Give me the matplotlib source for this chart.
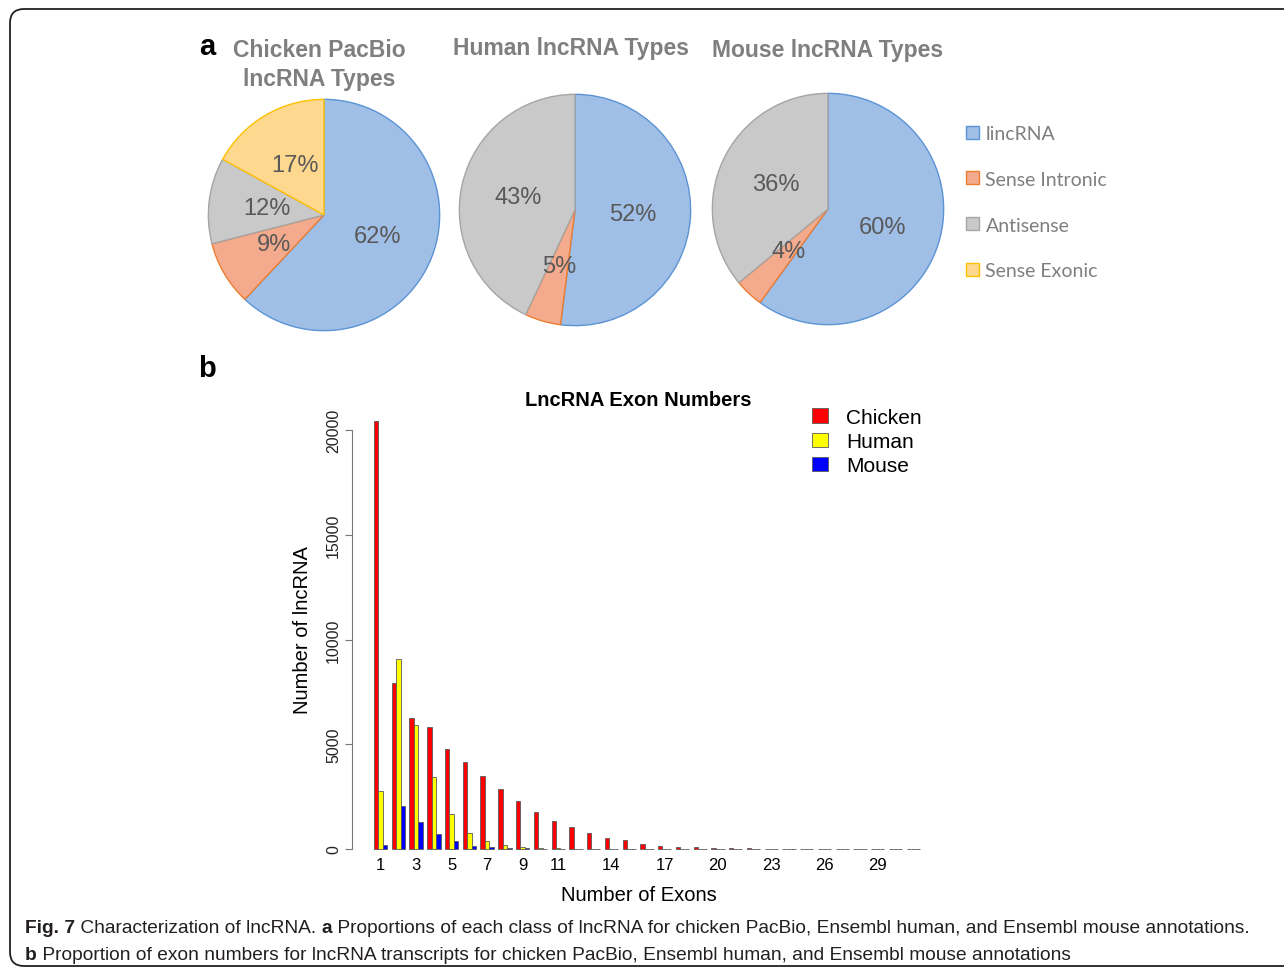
import numpy as np
import matplotlib.pyplot as plt
from matplotlib.patches import Patch, FancyBboxPatch
from matplotlib.transforms import IdentityTransform

W, H = 1284, 970

# ---- data: panel a (pie charts) ----
pie_types = ['lincRNA', 'Sense Intronic', 'Antisense', 'Sense Exonic']
chicken_pct = [62, 9, 12, 17]
human_pct = [52, 5, 43, 0]
mouse_pct = [60, 4, 36, 0]
pie_titles = ['Chicken PacBio\nlncRNA Types', 'Human lncRNA Types', 'Mouse lncRNA Types']

# ---- data: panel b (exon numbers, groups 1..31) ----
exon_numbers = list(range(1, 32))
chicken_exons = [20430, 7900, 6270, 5840, 4790, 4170, 3480, 2860, 2270, 1780,
                 1340, 1050, 750, 540, 430, 250, 160, 110, 80, 60,
                 40, 30, 20, 15, 10, 8, 6, 5, 4, 3, 3]
human_exons = [2770, 9050, 5920, 3440, 1650, 760, 370, 190, 100, 50,
               30, 20, 10, 8, 5, 4, 3, 2, 2, 1,
               1, 1, 1, 1, 1, 1, 1, 1, 1, 1, 1]
mouse_exons = [190, 2040, 1270, 730, 370, 140, 100, 60, 30, 20,
               10, 8, 5, 4, 3, 2, 2, 1, 1, 1,
               1, 1, 1, 1, 1, 1, 1, 1, 1, 1, 1]
species = ['Chicken', 'Human', 'Mouse']
shown_ticks = [1, 3, 5, 7, 9, 11, 14, 17, 20, 23, 26, 29]

pie_fill = ['#a0bfe7', '#f4aa8c', '#c9c9c9', '#fed88e']
pie_edge = ['#5b93d3', '#ed7d31', '#a5a5a5', '#ffc000']
bar_colors = ['#ff0000', '#ffff00', '#0000ff']

fig = plt.figure(figsize=(W / 100, H / 100), dpi=100)


def px_axes(left, top, width, height):
    return fig.add_axes([left / W, 1 - (top + height) / H, width / W, height / H])


def fx(x):
    return x / W


def fy(y):
    return 1 - y / H


# outer rounded frame
frame = FancyBboxPatch((10, 3), 1300, 957, boxstyle='round,pad=0,rounding_size=14',
                       transform=IdentityTransform(), fill=False,
                       edgecolor='#222222', linewidth=1.3)
fig.patches.append(frame)

# ---- CHART a: pies ----
title_font = ['Liberation Sans', 'DejaVu Sans']
centers = [(324, 216), (575, 211), (828, 210)]
radius = 116
for (cx, cy), vals, ttl in zip(centers, [chicken_pct, human_pct, mouse_pct], pie_titles):
    ax = px_axes(cx - radius, cy - radius, 2 * radius, 2 * radius)
    keep = [i for i, v in enumerate(vals) if v > 0]
    wedges, _, autotexts = ax.pie([vals[i] for i in keep],
                                  colors=[pie_fill[i] for i in keep],
                                  startangle=90, counterclock=False,
                                  autopct='%.0f%%', pctdistance=0.5,
                                  wedgeprops=dict(linewidth=1.0),
                                  textprops=dict(fontsize=17, color='#595959',
                                                 family=title_font))
    for w, i in zip(wedges, keep):
        w.set_edgecolor(pie_edge[i])
    ax.set_xlim(-1.003, 1.003)
    ax.set_ylim(-1.003, 1.003)

fig.text(fx(319), fy(39), pie_titles[0], ha='center', va='top', fontsize=16.5,
         fontweight='bold', color='#7f7f7f', family=title_font, linespacing=1.35)
fig.text(fx(571), fy(37), pie_titles[1], ha='center', va='top', fontsize=16.5,
         fontweight='bold', color='#7f7f7f', family=title_font)
fig.text(fx(828), fy(39), pie_titles[2], ha='center', va='top', fontsize=16.5,
         fontweight='bold', color='#7f7f7f', family=title_font)

pie_handles = [Patch(facecolor=f, edgecolor=e, linewidth=1.0) for f, e in zip(pie_fill, pie_edge)]
leg_a = fig.legend(pie_handles, pie_types, loc='upper left', bbox_to_anchor=(fx(966), fy(126)),
                   frameon=False, borderpad=0, borderaxespad=0, handlelength=0.65,
                   handleheight=0.65, handletextpad=0.35, labelspacing=1.48,
                   prop=dict(family=['Lato', 'DejaVu Sans'], size=14))
for t in leg_a.get_texts():
    t.set_color('#7f7f7f')

# ---- CHART b: exon number bars ----
bx = px_axes(352, 410, 573, 440)
unit = 17.75 / 4
x0_px = 374 - unit
bx.set_xlim((352 - x0_px) / unit, (925 - x0_px) / unit)
bx.set_ylim(0, 440 / 20.95 * 1000)

groups = np.array(exon_numbers)
for j, (vals, col, name) in enumerate(zip([chicken_exons, human_exons, mouse_exons], bar_colors, species)):
    bx.bar((groups - 1) * 4 + 1 + j, vals, width=1, align='edge', color=col,
           edgecolor='#5a5a5a', linewidth=0.6, label=name, clip_on=False)

for s in ['top', 'right', 'bottom']:
    bx.spines[s].set_visible(False)
bx.spines['left'].set_bounds(0, 20000)
bx.spines['left'].set_color('#777777')
bx.set_yticks([0, 5000, 10000, 15000, 20000])
bx.set_yticklabels(['0', '5000', '10000', '15000', '20000'], rotation=90, va='center',
                   fontsize=11.5, family='Liberation Sans', color='#222222')
bx.tick_params(axis='y', length=5, width=0.8, color='#777777', pad=3)
bx.set_xticks([(n - 1) * 4 + 2.5 for n in shown_ticks])
bx.set_xticklabels([str(n) for n in shown_ticks], fontsize=12, family='Liberation Sans')
bx.tick_params(axis='x', length=0, pad=6)
bx.set_xlabel('Number of Exons', fontsize=14.5, family='Liberation Sans', labelpad=9)
bx.set_ylabel('Number of lncRNA', fontsize=14.5, family='Liberation Sans', labelpad=10)
bx.set_title('LncRNA Exon Numbers', fontsize=14.5, fontweight='bold',
             family='Liberation Sans', pad=-6)

leg_b = fig.legend(loc='upper left', bbox_to_anchor=(fx(812), fy(409)), frameon=False,
                   borderpad=0, borderaxespad=0, handlelength=0.75, handleheight=0.7,
                   handletextpad=0.9, labelspacing=0.25,
                   prop=dict(family='Liberation Sans', size=15))

# panel letters
fig.text(fx(199), fy(47), 'a', fontsize=21, fontweight='bold', family='Liberation Sans', va='center')
fig.text(fx(198), fy(369), 'b', fontsize=21, fontweight='bold', family='Liberation Sans', va='center')

# ---- caption ----
cap_font = ['Liberation Sans Narrow', 'Liberation Sans']
cap1 = [('Fig. 7', True), (' Characterization of lncRNA. ', False), ('a', True),
        (' Proportions of each class of lncRNA for chicken PacBio, Ensembl human, and Ensembl mouse annotations.', False)]
cap2 = [('b', True),
        (' Proportion of exon numbers for lncRNA transcripts for chicken PacBio, Ensembl human, and Ensembl mouse annotations', False)]

renderer = fig.canvas.get_renderer()


def rich_line(x, y, pieces, size, draw=True):
    made = []
    start = x
    for txt, bold in pieces:
        t = fig.text(fx(x), fy(y), txt, fontsize=size, family=cap_font,
                     fontweight='bold' if bold else 'normal', va='baseline', color='#231f20')
        x += t.get_window_extent(renderer).width
        made.append(t)
    if not draw:
        for t in made:
            t.remove()
    return x - start


probe = rich_line(25, 933, cap1, 10, draw=False)
cap_size = 10 * 1226 / probe
rich_line(25, 933, cap1, cap_size)
rich_line(25, 960, cap2, cap_size)

fig.savefig('out.png', dpi=100)
